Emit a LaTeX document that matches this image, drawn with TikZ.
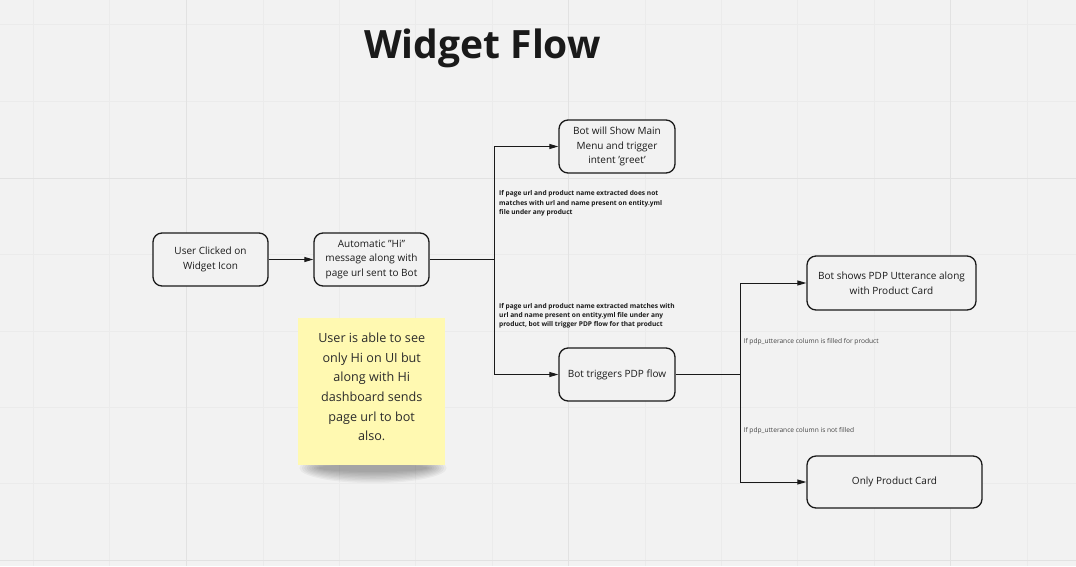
\documentclass[tikz,border=0pt]{standalone}
\usepackage{fontspec}
\setmainfont{Open Sans}
\usetikzlibrary{arrows.meta}
\definecolor{bg}{HTML}{F2F2F2}
\definecolor{gridfaint}{HTML}{EBEBEB}
\definecolor{gridstrong}{HTML}{E2E2E2}
\definecolor{sticky}{HTML}{FFF9B1}
\definecolor{ink}{HTML}{1A1A1A}
\definecolor{notetextc}{HTML}{2B2B2B}
\definecolor{labgray}{HTML}{444444}
\tikzset{
  flowbox/.style={draw=ink, line width=1.3pt, rounded corners=9pt, fill=bg,
    align=center, font=\fontsize{10}{14.5}\selectfont, text=ink, inner sep=2pt},
  conn/.style={draw=ink, line width=1pt},
  arr/.style={conn, -{Triangle[length=9pt,width=5pt]}},
  condlab/.style={anchor=north west, align=left, inner sep=0pt, text=ink,
    font=\fontsize{6.6}{9.3}\selectfont\bfseries},
  smalllab/.style={anchor=north west, align=left, inner sep=0pt, text=labgray,
    font=\fontsize{6.6}{8}\selectfont},
}
\begin{document}
\begin{tikzpicture}[x=1pt,y=-1pt]
\useasboundingbox (0,0) rectangle (1076,566);
\fill[bg] (0,0) rectangle (1076,566);
% grid
\foreach \gx in {33.4,109.8,263,339.4,415.8,492.2,645,721.4,797.8,874.2,1027} {
  \draw[gridfaint, line width=1pt] (\gx,0) -- (\gx,566);
}
\foreach \gy in {24.7,101.1,254.7,331.1,407.5,483.9} {
  \draw[gridfaint, line width=1pt] (0,\gy) -- (1076,\gy);
}
\foreach \gx in {186.5,568.5,950.5} {
  \draw[gridstrong, line width=1.6pt] (\gx,0) -- (\gx,566);
}
\foreach \gy in {178.3,560.3} {
  \draw[gridstrong, line width=1.6pt] (0,\gy) -- (1076,\gy);
}
% title
\node[font=\fontsize{39}{42}\selectfont\bfseries, text=ink, inner sep=0pt] (title) at (482.5,48) {Widget Flow};
% boxes
\node[flowbox, minimum width=115pt, minimum height=53pt] (b1) at (210.5,259.5) {User Clicked on\\Widget Icon};
\node[flowbox, minimum width=115pt, minimum height=53pt] (b2) at (371.5,259.5) {Automatic \char"0022Hi\char"0022\\message along with\\page url sent to Bot};
\node[flowbox, minimum width=116pt, minimum height=53pt] (b3) at (617,146.5) {Bot will Show Main\\Menu and trigger\\intent \char"0027greet\char"0027};
\node[flowbox, minimum width=116pt, minimum height=53pt] (b4) at (617,374.5) {Bot triggers PDP flow};
\node[flowbox, minimum width=169pt, minimum height=54pt] (b5) at (891.5,283) {Bot shows PDP Utterance along\\with Product Card};
\node[flowbox, minimum width=175pt, minimum height=52pt] (b6) at (894.5,482) {Only Product Card};
% junctions
\coordinate (j1) at (494,259.5);
\coordinate (j2) at (740,374.5);
% connectors
\draw[arr] (b1) -- (b2);
\draw[conn] (b2.east) -- (j1);
\draw[arr] (j1) |- (b3.west);
\draw[arr] (j1) |- (b4.west);
\draw[conn] (b4.east) -- (j2);
\draw[arr] (j2) |- (b5.west);
\draw[arr] (j2) |- (b6.west);
% labels
\node[condlab] (l1) at (499,190.5) {If page url and product name extracted does not\\matches with url and name present on entity.yml\\file under any product};
\node[condlab] (l2) at (499,303) {If page url and product name extracted matches with\\url and name present on entity.yml file under any\\product, bot will trigger PDP flow for that product};
\node[smalllab] (l3) at (743.5,338.5) {If pdp\_utterance column is filled for product};
\node[smalllab] (l4) at (743.5,427.5) {If pdp\_utterance column is not filled};
% sticky note shadow
\foreach \k in {1,...,9} {
  \fill[black, opacity=0.04] (373,468) ellipse ({52+\k*2.4} and {2.5+\k*1.4});
}
% sticky note
\node[fill=sticky, minimum width=147pt, minimum height=147pt, inner sep=0pt,
  anchor=north west] (note) at (298,318) {};
\node[anchor=north, align=center, inner sep=0pt, text=notetextc,
  font=\fontsize{12.6}{19.6}\selectfont] (notetext) at ([yshift=-15pt]note.north) {User is able to see\\only Hi on UI but\\along with Hi\\dashboard sends\\page url to bot\\also.};
\end{tikzpicture}
\end{document}
